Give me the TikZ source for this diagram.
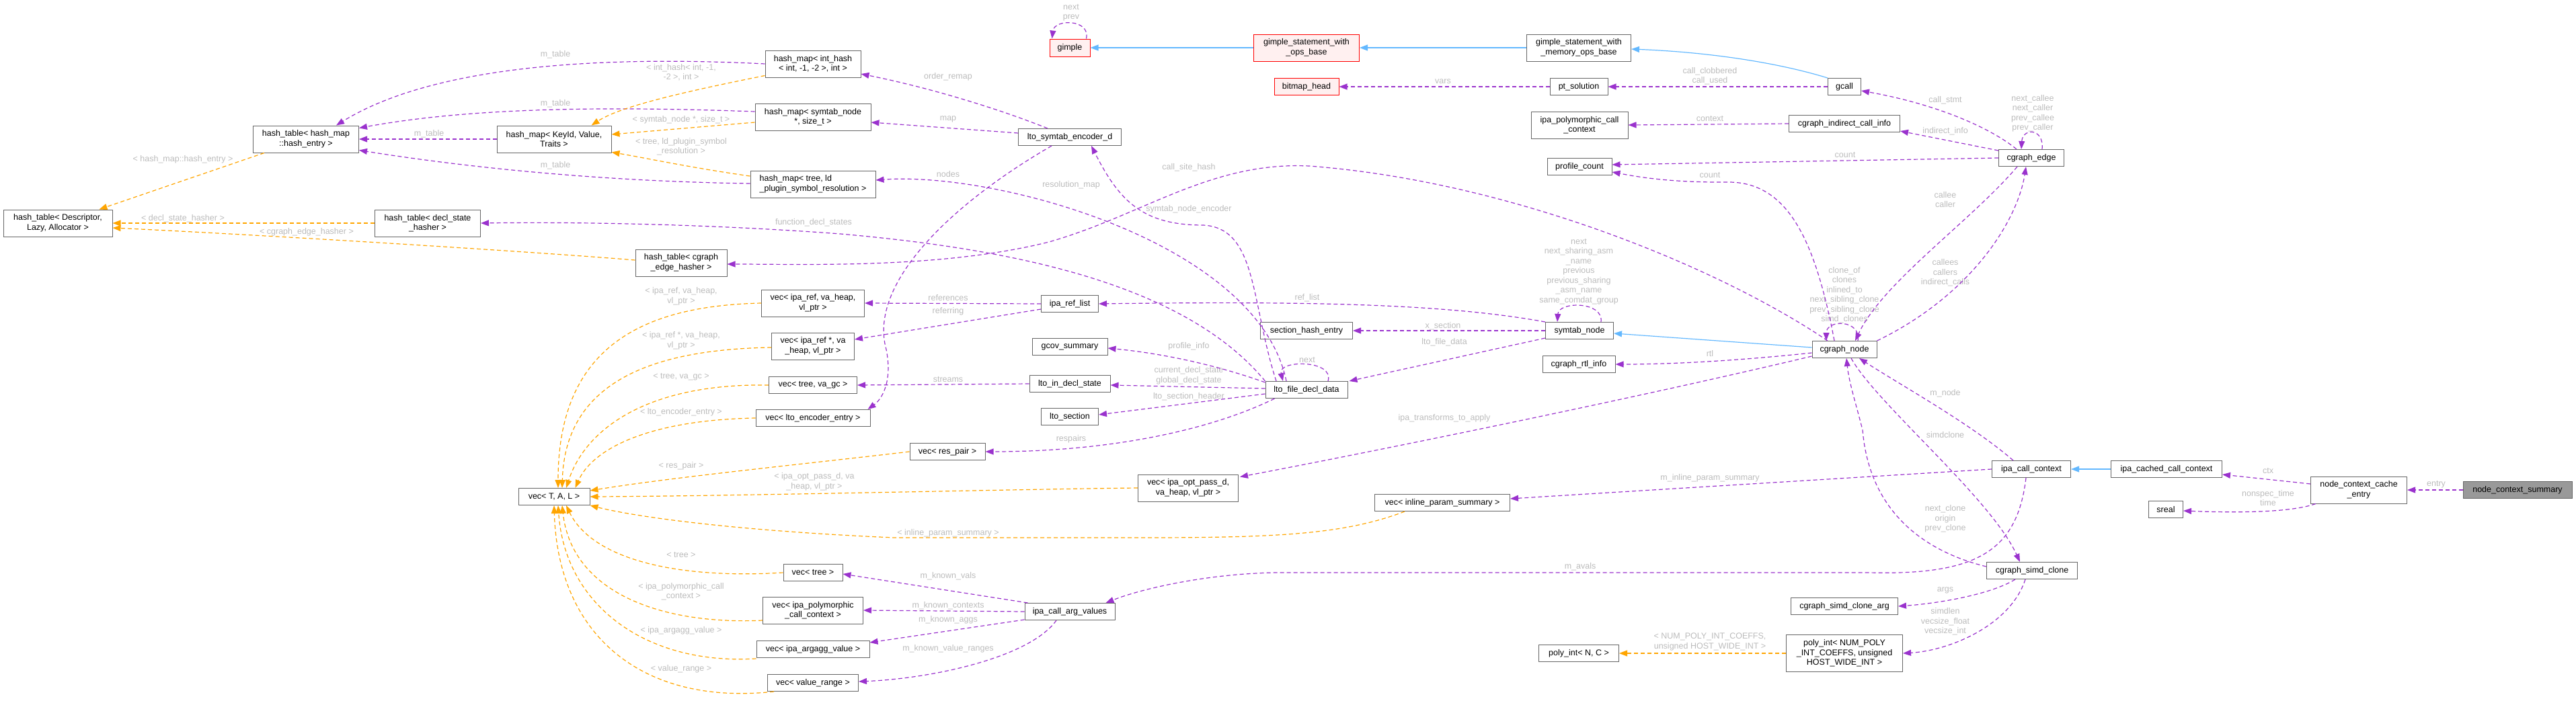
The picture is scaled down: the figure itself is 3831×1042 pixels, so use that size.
\documentclass[tikz,border=0pt]{standalone}
\usepackage{fontspec}
\setmainfont{Liberation Sans}
\usepackage{tikz}
\usetikzlibrary{arrows.meta,calc}

\definecolor{edgepurple}{HTML}{9A32CD}
\definecolor{tmplorange}{HTML}{FFA500}
\definecolor{inhblue}{HTML}{63B8FF}
\definecolor{boxgray}{HTML}{666666}
\definecolor{lblgray}{HTML}{BBBBBB}
\definecolor{redfill}{HTML}{FFF0F0}
\definecolor{curfill}{HTML}{999999}

\newcommand{\dxfont}{\fontsize{12.5}{14.5}\selectfont}

\begin{document}
\begin{tikzpicture}[x=1pt,y=-1pt,
  every node/.style={font=\dxfont}
]

\tikzset{cls/.style={draw=boxgray,fill=white,line width=1pt,rectangle,minimum height=25pt,inner sep=1pt,align=center}}
\tikzset{redcls/.style={cls,draw=red,fill=redfill}}
\tikzset{curcls/.style={cls,fill=curfill}}
\tikzset{lbl/.style={text=lblgray,align=center,inner sep=0pt}}
\tikzset{memb/.style={draw=edgepurple,line width=1.2pt,dash pattern=on 6pt off 4pt,-{Triangle[length=12pt,width=9pt]}}}
\tikzset{tmpl/.style={memb,draw=tmplorange}}
\tikzset{inhr/.style={draw=inhblue,line width=1.2pt,-{Triangle[length=12pt,width=9pt]}}}

\useasboundingbox (0,0) rectangle (3831,1042);

\node[cls,minimum width=157pt,minimum height=40pt] (hte) at (455,207) {hash\_table< hash\_map\\::hash\_entry >};
\node[cls,minimum width=170pt,minimum height=40pt] (hmk) at (824,207) {hash\_map< KeyId, Value,\\Traits >};
\node[cls,minimum width=162pt,minimum height=40pt] (htd) at (86,332) {hash\_table< Descriptor,\\Lazy, Allocator >};
\node[cls,minimum width=157pt,minimum height=40pt] (htds) at (636,332) {hash\_table< decl\_state\\\_hasher >};
\node[cls,minimum width=142pt,minimum height=40pt] (hmih) at (1209,95) {hash\_map< int\_hash\\< int, -1, -2 >, int >};
\node[cls,minimum width=172pt,minimum height=40pt] (hmsn) at (1209,174) {hash\_map< symtab\_node\\*, size\_t >};
\node[cls,minimum width=186pt,minimum height=40pt,align=left] (hmtl) at (1209,274) {hash\_map< tree, ld\\\_plugin\_symbol\_resolution >};
\node[cls,minimum width=153pt] (lse) at (1591,204) {lto\_symtab\_encoder\_d};
\node[redcls,minimum width=60pt,minimum height=26pt] (gimple) at (1591,71) {gimple};
\node[redcls,minimum width=157pt,minimum height=40pt] (gswob) at (1943,71) {gimple\_statement\_with\\\_ops\_base};
\node[cls,minimum width=155pt,minimum height=40pt] (gswmob) at (2348,71) {gimple\_statement\_with\\\_memory\_ops\_base};
\node[redcls,minimum width=96pt] (bmh) at (1943,129) {bitmap\_head};
\node[cls,minimum width=86pt] (pts) at (2348,129) {pt\_solution};
\node[cls,minimum width=49pt] (gcall) at (2743,129) {gcall};
\node[cls,minimum width=144pt,minimum height=40pt] (ipcc) at (2349,186) {ipa\_polymorphic\_call\\\_context};
\node[cls,minimum width=165pt] (cici) at (2743,184) {cgraph\_indirect\_call\_info};
\node[cls,minimum width=96pt] (pc) at (2349,248) {profile\_count};
\node[cls,minimum width=97pt] (ce) at (3021,235) {cgraph\_edge};
\node[cls,minimum width=136pt,minimum height=40pt] (htce) at (1013,391) {hash\_table< cgraph\\\_edge\_hasher >};
\node[cls,minimum width=153pt,minimum height=40pt] (vir) at (1209,451) {vec< ipa\_ref, va\_heap,\\vl\_ptr >};
\node[cls,minimum width=123pt,minimum height=40pt] (virp) at (1209,515) {vec< ipa\_ref *, va\\\_heap, vl\_ptr >};
\node[cls,minimum width=131pt] (vtg) at (1209,573) {vec< tree, va\_gc >};
\node[cls,minimum width=170pt] (vlee) at (1209,622) {vec< lto\_encoder\_entry >};
\node[cls,minimum width=112pt] (vrp) at (1409,672) {vec< res\_pair >};
\node[cls,minimum width=85pt] (irl) at (1591,452) {ipa\_ref\_list};
\node[cls,minimum width=112pt] (gcs) at (1591,516) {gcov\_summary};
\node[cls,minimum width=120pt] (lids) at (1591,571) {lto\_in\_decl\_state};
\node[cls,minimum width=85pt] (lsec) at (1591,620) {lto\_section};
\node[cls,minimum width=122pt] (lfdd) at (1943,580) {lto\_file\_decl\_data};
\node[cls,minimum width=137pt] (she) at (1943,492) {section\_hash\_entry};
\node[cls,minimum width=101pt] (sn) at (2349,492) {symtab\_node};
\node[cls,minimum width=108pt] (cri) at (2348,542) {cgraph\_rtl\_info};
\node[cls,minimum width=96pt] (cn) at (2743,520) {cgraph\_node};
\node[cls,minimum width=117pt] (icc) at (3021,698) {ipa\_call\_context};
\node[cls,minimum width=165pt] (iccc) at (3222,698) {ipa\_cached\_call\_context};
\node[cls,minimum width=143pt,minimum height=40pt] (ncce) at (3508,729) {node\_context\_cache\\\_entry};
\node[curcls,minimum width=162pt] (ncs) at (3744,729) {node\_context\_summary};
\node[cls,minimum width=51pt] (sreal) at (3221,758) {sreal};
\node[cls,minimum width=135pt] (csc) at (3022,849) {cgraph\_simd\_clone};
\node[cls,minimum width=106pt] (vtal) at (824,739) {vec< T, A, L >};
\node[cls,minimum width=149pt,minimum height=40pt] (viop) at (1767,726) {vec< ipa\_opt\_pass\_d,\\va\_heap, vl\_ptr >};
\node[cls,minimum width=88pt] (vt) at (1209,852) {vec< tree >};
\node[cls,minimum width=149pt,minimum height=40pt] (vipc) at (1209,908) {vec< ipa\_polymorphic\\\_call\_context >};
\node[cls,minimum width=168pt] (viav) at (1209,966) {vec< ipa\_argagg\_value >};
\node[cls,minimum width=135pt] (vvr) at (1209,1016) {vec< value\_range >};
\node[cls,minimum width=134pt] (icav) at (1591,910) {ipa\_call\_arg\_values};
\node[cls,minimum width=201pt] (vips) at (2145,748) {vec< inline\_param\_summary >};
\node[cls,minimum width=159pt] (csca) at (2743,902) {cgraph\_simd\_clone\_arg};
\node[cls,minimum width=119pt] (pinc) at (2348,972) {poly\_int< N, C >};
\node[cls,minimum width=173pt,minimum height=55pt] (pint) at (2743,972) {poly\_int< NUM\_POLY\\\_INT\_COEFFS, unsigned\\HOST\_WIDE\_INT >};

\node[lbl] (l1) at (826,81) {m\_table};
\node[lbl] (l2) at (826,154) {m\_table};
\node[lbl] (l3) at (638,199) {m\_table};
\node[lbl] (l4) at (826,246) {m\_table};
\node[lbl] (l5) at (1410,114) {order\_remap};
\node[lbl] (l6) at (1410,177) {map};
\node[lbl] (l7) at (1410,259) {nodes};
\node[lbl] (l8) at (1593,275) {resolution\_map};
\node[lbl] (l9) at (1768,311) {symtab\_node\_encoder};
\node[lbl] (l10) at (1768,249) {call\_site\_hash};
\node[lbl] (l11) at (1210,331) {function\_decl\_states};
\node[lbl] (l12) at (1593,19) {next\\prev};
\node[lbl] (l13) at (2146,121) {vars};
\node[lbl] (l14) at (2543,113) {call\_clobbered\\call\_used};
\node[lbl] (l15) at (2543,177) {context};
\node[lbl] (l16) at (2744,231) {count};
\node[lbl] (l17) at (2543,261) {count};
\node[lbl] (l18) at (2893,149) {call\_stmt};
\node[lbl] (l19) at (2893,195) {indirect\_info};
\node[lbl] (l20) at (3023,169) {next\_callee\\next\_caller\\prev\_callee\\prev\_caller};
\node[lbl] (l21) at (2893,297) {callee\\caller};
\node[lbl] (l22) at (2893,406) {callees\\callers\\indirect\_calls};
\node[lbl] (l23) at (2743,439) {clone\_of\\clones\\inlined\_to\\next\_sibling\_clone\\prev\_sibling\_clone\\simd\_clones};
\node[lbl] (l24) at (2348,404) {next\\next\_sharing\_asm\\\_name\\previous\\previous\_sharing\\\_asm\_name\\same\_comdat\_group};
\node[lbl] (l25) at (1944,443) {ref\_list};
\node[lbl] (l26) at (2146,485) {x\_section};
\node[lbl] (l27) at (2148,509) {lto\_file\_data};
\node[lbl] (l28) at (1944,536) {next};
\node[lbl] (l29) at (2543,526) {rtl};
\node[lbl] (l30) at (2148,622) {ipa\_transforms\_to\_apply};
\node[lbl] (l31) at (1410,443) {references};
\node[lbl] (l32) at (1410,463) {referring};
\node[lbl] (l33) at (1768,515) {profile\_info};
\node[lbl] (l34) at (1768,559) {current\_decl\_state\\global\_decl\_state};
\node[lbl] (l35) at (1768,590) {lto\_section\_header};
\node[lbl] (l36) at (1593,653) {respairs};
\node[lbl] (l37) at (1410,565) {streams};
\node[lbl] (l38) at (2543,711) {m\_inline\_param\_summary};
\node[lbl] (l39) at (2350,843) {m\_avals};
\node[lbl] (l40) at (2893,585) {m\_node};
\node[lbl] (l41) at (2893,647) {simdclone};
\node[lbl] (l42) at (2893,772) {next\_clone\\origin\\prev\_clone};
\node[lbl] (l43) at (2893,878) {args};
\node[lbl] (l44) at (2893,925) {simdlen\\vecsize\_float\\vecsize\_int};
\node[lbl] (l45) at (3373,701) {ctx};
\node[lbl] (l46) at (3373,741) {nonspec\_time\\time};
\node[lbl] (l47) at (3623,721) {entry};
\node[lbl] (l48) at (1410,857) {m\_known\_vals};
\node[lbl] (l49) at (1410,901) {m\_known\_contexts};
\node[lbl] (l50) at (1410,922) {m\_known\_aggs};
\node[lbl] (l51) at (1410,965) {m\_known\_value\_ranges};
\node[lbl] (o1) at (272,237) {< hash\_map::hash\_entry >};
\node[lbl] (o2) at (272,325) {< decl\_state\_hasher >};
\node[lbl] (o3) at (456,345) {< cgraph\_edge\_hasher >};
\node[lbl] (o4) at (1013,108) {< int\_hash< int, -1,\\-2 >, int >};
\node[lbl] (o5) at (1013,178) {< symtab\_node *, size\_t >};
\node[lbl] (o6) at (1013,218) {< tree, ld\_plugin\_symbol\\\_resolution >};
\node[lbl] (o7) at (1013,441) {< ipa\_ref, va\_heap,\\vl\_ptr >};
\node[lbl] (o8) at (1013,507) {< ipa\_ref *, va\_heap,\\vl\_ptr >};
\node[lbl] (o9) at (1013,561) {< tree, va\_gc >};
\node[lbl] (o10) at (1013,613) {< lto\_encoder\_entry >};
\node[lbl] (o11) at (1013,693) {< res\_pair >};
\node[lbl] (o12) at (1211,717) {< ipa\_opt\_pass\_d, va\\\_heap, vl\_ptr >};
\node[lbl] (o13) at (1410,793) {< inline\_param\_summary >};
\node[lbl] (o14) at (1013,826) {< tree >};
\node[lbl] (o15) at (1013,880) {< ipa\_polymorphic\_call\\\_context >};
\node[lbl] (o16) at (1013,938) {< ipa\_argagg\_value >};
\node[lbl] (o17) at (1013,995) {< value\_range >};
\node[lbl] (o18) at (2543,955) {< NUM\_POLY\_INT\_COEFFS,\\unsigned HOST\_WIDE\_INT >};

\draw[memb] (hmih.west) .. controls (880,82) and (640,100) .. ($(hte.north)+(45,0)$);
\draw[memb] ($(hmsn.west)+(0,-8)$) .. controls (900,158) and (700,160) .. ($(hte.north east)+(0,4)$);
\draw[memb] (hmk.west) -- (hte.east);
\draw[memb] ($(hmtl.west)+(0,-1)$) .. controls (900,270) and (700,250) .. ($(hte.south east)+(0,-4)$);
\draw[memb] ($(lse.north)+(-33,0)$) .. controls (1480,160) and (1380,130) .. ($(hmih.east)+(0,15)$);
\draw[memb] ($(lse.west)+(0,-6)$) -- ($(hmsn.east)+(0,8)$);
\draw[memb] ($(lfdd.north)+(-30,0)$) .. controls (1870,360) and (1480,255) .. ($(hmtl.east)+(0,-6)$);
\draw[memb] ($(lse.south)+(-27,0)$) .. controls (1420,300) and (1290,420) .. (1318,520) .. controls (1328,570) and (1310,595) .. ($(vlee.north east)+(-4,0)$);
\draw[memb] ($(lfdd.north)+(-45,0)$) .. controls (1860,450) and (1870,340) .. (1790,335) .. controls (1700,335) and (1665,300) .. ($(lse.south)+(32,0)$);
\draw[memb] (lfdd.north west) .. controls (1760,420) and (1500,370) .. (1250,348) .. controls (1050,333) and (850,330) .. (htds.east);
\draw[memb] ($(cn.north)+(-25,0)$) .. controls (2560,400) and (2250,270) .. (1947,247) .. controls (1800,240) and (1700,320) .. (1560,360) .. controls (1400,400) and (1200,393) .. ($(htce.east)+(0,2)$);
\draw[memb] ($(gimple.north east)+(-6,0)$) .. controls (1622,28) and (1568,28) .. ($(gimple.north west)+(4,0)$);
\draw[memb] (pts.west) -- (bmh.east);
\draw[memb] (gcall.west) -- (pts.east);
\draw[memb] (cici.west) -- (ipcc.east);
\draw[memb] (ce.west) -- ($(pc.east)+(0,-3)$);
\draw[memb] ($(cn.north)+(-15,0)$) .. controls (2700,360) and (2660,272) .. (2572,271) .. controls (2480,272) and (2430,262) .. ($(pc.east)+(0,8)$);
\draw[memb] ($(ce.north)+(-22,0)$) .. controls (2960,190) and (2880,155) .. ($(gcall.east)+(0,6)$);
\draw[memb] ($(ce.north west)+(0,2)$) -- ($(cici.south east)+(0,-2)$);
\draw[memb] ($(ce.north)+(16,0)$) .. controls (3040,190) and (3008,190) .. ($(ce.north)+(-15,0)$);
\draw[memb] ($(ce.south)+(-21,0)$) .. controls (2930,330) and (2800,420) .. ($(cn.north)+(16,0)$);
\draw[memb] (cn.north east) .. controls (2930,440) and (3000,330) .. ($(ce.south)+(-8,0)$);
\draw[memb] ($(cn.north)+(20,0)$) .. controls (2768,475) and (2716,475) .. ($(cn.north)+(-27,0)$);
\draw[memb] ($(sn.north)+(32,0)$) .. controls (2385,448) and (2318,448) .. ($(sn.north)+(-33,0)$);
\draw[memb] (sn.north west) .. controls (2150,452) and (1950,448) .. (irl.east);
\draw[memb] (sn.west) -- (she.east);
\draw[memb] ($(sn.south west)+(0,-2)$) -- ($(lfdd.north east)+(2,0)$);
\draw[memb] ($(lfdd.north)+(32,0)$) .. controls (1985,535) and (1900,535) .. ($(lfdd.north)+(-35,0)$);
\draw[memb] ($(cn.west)+(0,5)$) .. controls (2600,535) and (2500,542) .. (cri.east);
\draw[memb] ($(cn.south west)+(0,-3)$) .. controls (2400,600) and (2000,680) .. ($(viop.north east)+(2,4)$);
\draw[memb] (irl.west) -- (vir.east);
\draw[memb] ($(irl.west)+(0,8)$) -- ($(virp.east)+(0,-10)$);
\draw[memb] ($(lfdd.north west)+(0,2)$) .. controls (1800,540) and (1720,525) .. ($(gcs.east)+(0,2)$);
\draw[memb] ($(lfdd.west)+(0,-2)$) -- ($(lids.east)+(0,2)$);
\draw[memb] ($(lfdd.west)+(0,6)$) -- ($(lsec.east)+(0,-3)$);
\draw[memb] ($(lfdd.south west)+(14,0)$) .. controls (1800,640) and (1650,672) .. (vrp.east);
\draw[memb] (lids.west) -- (vtg.east);
\draw[memb] (icc.west) -- ($(vips.east)+(0,-6)$);
\draw[memb] ($(icc.south)+(-8,0)$) .. controls (3000,820) and (2940,856) .. (2780,852) -- (1900,852) .. controls (1800,853) and (1700,875) .. ($(icav.north east)+(-14,0)$);
\draw[memb] ($(icc.north)+(-27,0)$) .. controls (2930,630) and (2830,575) .. ($(cn.south)+(22,0)$);
\draw[memb] ($(cn.south)+(10,0)$) .. controls (2790,600) and (2960,740) .. ($(csc.north)+(-18,0)$);
\draw[memb] ($(csc.west)+(0,-6)$) .. controls (2860,820) and (2780,760) .. (2770,640) .. controls (2760,600) and (2750,570) .. ($(cn.south)+(3,0)$);
\draw[memb] ($(csc.south)+(-25,0)$) .. controls (2960,885) and (2880,898) .. (csca.east);
\draw[memb] ($(csc.south)+(-10,0)$) .. controls (2990,930) and (2900,968) .. (pint.east);
\draw[memb] ($(ncce.west)+(0,-9)$) -- ($(iccc.east)+(0,8)$);
\draw[memb] ($(ncce.south west)+(8,0)$) .. controls (3400,765) and (3300,762) .. ($(sreal.east)+(0,2)$);
\draw[memb] (ncs.west) -- (ncce.east);
\draw[memb] ($(icav.north west)+(5,0)$) -- ($(vt.east)+(0,2)$);
\draw[memb] (icav.west) -- (vipc.east);
\draw[memb] ($(icav.south west)+(0,-1)$) -- ($(viav.north east)+(0,3)$);
\draw[memb] ($(icav.south)+(-20,0)$) .. controls (1530,980) and (1380,1010) .. ($(vvr.east)+(0,-2)$);

\draw[inhr] (gswob.west) -- (gimple.east);
\draw[inhr] (gswmob.west) -- (gswob.east);
\draw[inhr] (gcall.north west) .. controls (2650,95) and (2550,78) .. ($(gswmob.east)+(0,2)$);
\draw[inhr] ($(cn.west)+(0,-3)$) -- ($(sn.east)+(0,4)$);
\draw[inhr] (iccc.west) -- (icc.east);

\draw[tmpl] ($(hte.south west)+(17,0)$) -- ($(htd.north east)+(-20,0)$);
\draw[tmpl] (htds.west) -- (htd.east);
\draw[tmpl] ($(htce.west)+(0,-4)$) .. controls (800,375) and (400,350) .. ($(htd.east)+(0,7)$);
\draw[tmpl] ($(hmih.south west)+(0,-3)$) .. controls (1000,140) and (920,160) .. ($(hmk.north east)+(-30,0)$);
\draw[tmpl] ($(hmsn.west)+(0,8)$) -- ($(hmk.east)+(0,-7)$);
\draw[tmpl] ($(hmtl.west)+(0,-12)$) .. controls (1030,250) and (960,235) .. ($(hmk.south east)+(0,-1)$);
\draw[tmpl] (vir.west) .. controls (950,455) and (830,520) .. ($(vtal.north)+(6,0)$);
\draw[tmpl] ($(virp.west)+(0,2)$) .. controls (950,520) and (840,580) .. ($(vtal.north)+(12,0)$);
\draw[tmpl] (vtg.west) .. controls (960,570) and (870,640) .. ($(vtal.north)+(18,0)$);
\draw[tmpl] (vlee.west) .. controls (960,625) and (880,670) .. ($(vtal.north east)+(-22,0)$);
\draw[tmpl] (vrp.west) .. controls (1200,690) and (1000,710) .. ($(vtal.east)+(0,-9)$);
\draw[tmpl] (viop.west) .. controls (1500,728) and (1100,738) .. (vtal.east);
\draw[tmpl] ($(vips.south west)+(45,0)$) .. controls (2000,795) and (1900,800) .. (1700,800) -- (1330,800) .. controls (1100,790) and (950,770) .. (vtal.south east);
\draw[tmpl] (vt.west) .. controls (1000,862) and (880,830) .. ($(vtal.south)+(18,0)$);
\draw[tmpl] ($(vipc.west)+(0,15)$) .. controls (980,930) and (850,880) .. ($(vtal.south)+(12,0)$);
\draw[tmpl] ($(viav.west)+(0,14)$) .. controls (960,990) and (840,900) .. ($(vtal.south)+(6,0)$);
\draw[tmpl] ($(vvr.south west)+(10,0)$) .. controls (960,1050) and (830,950) .. (vtal.south);
\draw[tmpl] (pint.west) -- (pinc.east);

\end{tikzpicture}
\end{document}
